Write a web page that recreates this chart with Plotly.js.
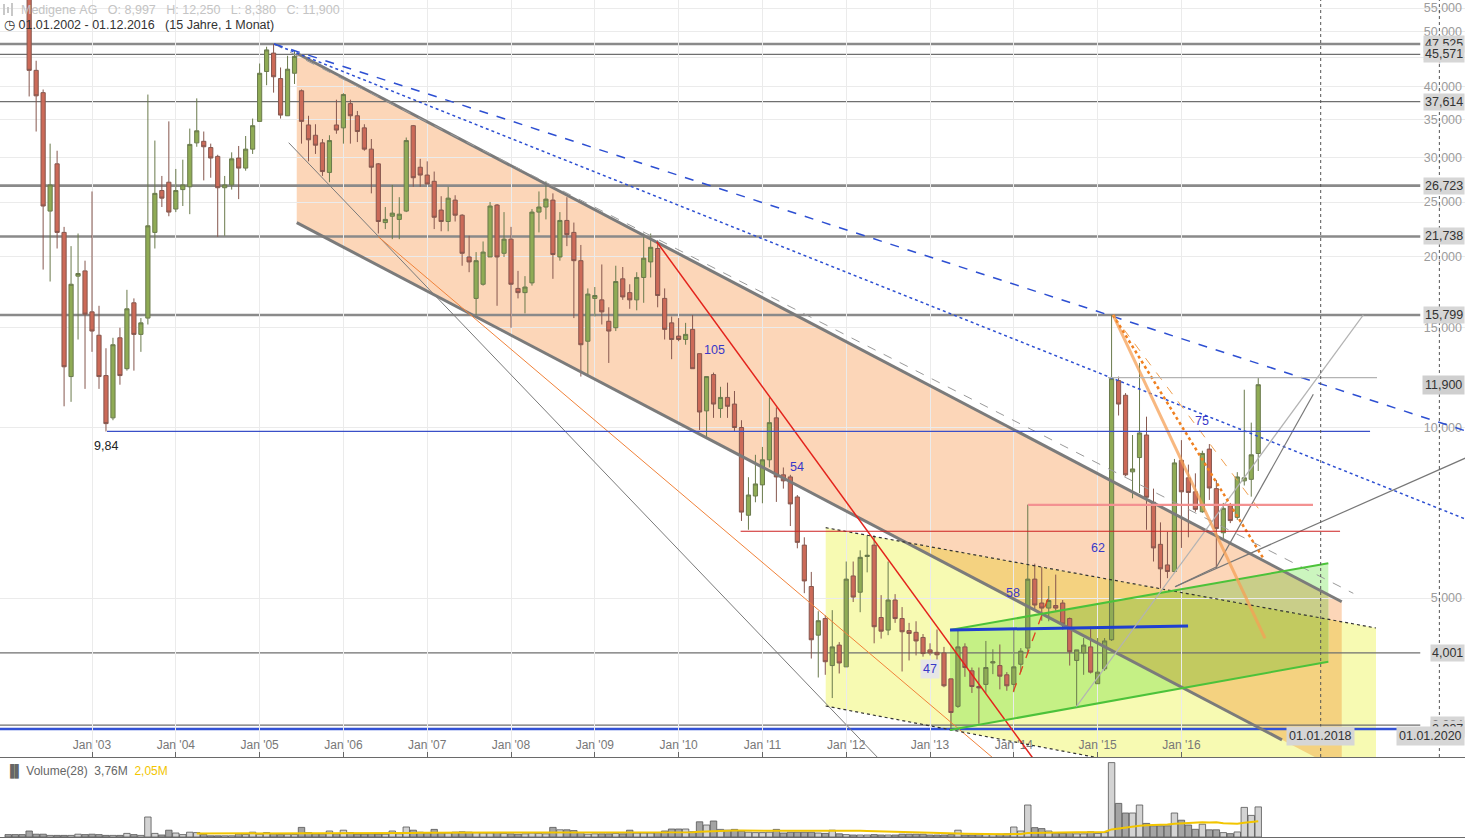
<!DOCTYPE html>
<html><head><meta charset="utf-8">
<script src="https://cdn.plot.ly/plotly-3.0.1.min.js"></script>
<style>
html,body{margin:0;padding:0;background:#fff;overflow:hidden;}
#chart{width:1465px;height:840px;}
</style></head><body>
<div id="chart"></div>
<script>
// ---------------- DATA (monthly, Jan 2002 .. Dec 2016) ----------------
const firstYear = 2002;
const opens = [
66,62,60,59,42.7,39.0,24.1,29.2,22.1,12.3,18.5,18.9,
16.0,14.55,12.35,10.4,14.4,12.7,16.6,14.6,15.6,22.1,26.2,27.1,
24.3,26.3,26.6,31.8,32.0,31.2,30.1,26.5,26.8,29.9,28.7,31.0,
34.7,42.5,45.8,41.3,35.5,42.2,39.3,34.2,32.8,31.8,28.2,34.2,
33.8,37.3,35.5,33.8,31.0,29.2,23.0,23.6,23.3,24.1,34.1,28.8,
27.9,27.2,24.2,23.1,25.2,23.7,20.0,16.9,17.9,20.0,24.7,20.3,
21.5,17.6,17.3,18.0,24.0,24.5,25.2,20.0,23.2,22.1,19.7,14.2,
16.9,16.8,15.4,15.0,18.3,17.3,16.8,18.4,19.6,20.7,16.9,15.3,
14.5,14.3,14.9,13.5,10.7,12.4,10.8,11.3,11.0,10.0,7.0,7.57,
7.92,8.77,10.4,8.25,8.18,7.54,6.2,5.24,4.3,4.6,3.8,4.13,
3.78,5.47,5.12,5.92,6.2,4.62,4.39,4.96,4.6,4.38,4.35,4.26,
4.05,4.01,4.0,3.6,3.22,4.1,3.72,3.49,3.52,3.84,3.8,3.66,
3.52,3.82,4.08,5.4,4.9,4.8,4.85,4.9,4.6,3.88,4.0,4.1,
3.53,3.75,4.22,12.1,11.4,8.35,8.85,9.7,7.38,6.22,5.72,5.57,
8.75,8.15,7.7,7.1,9.16,7.8,6.52,7.27,6.94,8.05,8.1,8.997];
const highs = [
70,65,63,60,44.4,39.5,31.7,30.8,22.6,20.9,22.0,19.7,
26.1,16.4,13.8,14.4,15.0,17.5,16.9,15.6,38.7,32.1,27.8,34.7,
28.6,29.7,33.7,38.1,33.3,31.7,30.3,27.8,30.6,31.4,32.7,35.1,
43.9,47.0,47.525,43.2,45.3,46.3,39.5,35.5,34.3,32.3,32.8,37.9,
38.9,37.9,36.2,34.3,32.3,29.3,24.5,26.8,25.5,32.5,34.2,29.8,
29.5,28.3,25.6,26.6,25.7,23.8,21.8,20.4,21.3,25.0,24.8,24.0,
22.6,18.9,18.5,24.3,26.1,27.2,25.9,24.0,25.5,23.0,21.0,17.6,
17.7,19.4,16.3,19.3,19.2,17.9,18.8,22.0,22.0,21.4,17.6,15.7,
15.6,15.3,15.8,13.5,12.3,12.5,11.8,12.0,11.6,10.3,8.17,8.95,
9.24,11.3,10.85,8.5,8.25,7.6,6.4,5.56,4.74,4.66,4.76,4.18,
5.8,5.8,6.07,6.45,6.45,5.06,5.8,5.08,4.82,4.52,4.55,4.32,
4.16,4.4,4.1,3.6,4.38,4.16,3.77,3.77,4.2,4.06,4.14,3.7,
4.4,4.08,7.31,5.75,5.67,5.25,5.5,4.96,4.62,4.05,4.25,4.45,
4.25,4.25,15.799,12.3,11.5,9.7,13.0,10.45,7.8,6.8,6.54,8.8,
9.5,8.6,8.3,9.1,9.35,8.08,7.36,7.36,8.34,11.66,10.2,12.25];
const lows = [
58,58,57.5,38.4,33.3,19.0,18.1,20.7,10.9,11.1,14.3,11.7,
13.6,11.7,9.84,10.3,11.9,12.6,12.6,13.6,15.2,20.7,24.5,23.6,
24.0,24.6,23.8,31.3,27.3,27.6,21.7,21.8,26.3,25.3,28.4,30.4,
34.7,40.2,39.0,35.1,35.5,40.4,31.7,29.5,30.4,27.8,27.1,33.0,
31.7,31.7,31.9,30.8,25.9,22.0,22.4,21.5,21.5,24.0,26.6,26.6,
26.9,22.4,22.2,22.2,23.1,19.3,18.8,15.8,17.8,20.0,16.4,20.0,
15.0,16.9,15.9,17.8,22.1,23.3,18.3,19.7,20.9,15.6,12.3,12.3,
15.7,15.2,13.0,14.8,16.8,16.2,16.1,16.6,18.4,16.3,14.3,13.2,
14.2,14.0,12.7,9.9,9.6,10.4,10.4,10.4,9.86,6.84,6.6,7.38,
7.35,8.5,7.39,7.8,6.7,6.12,5.1,3.91,3.62,3.66,3.33,3.68,
3.78,4.92,4.72,5.55,4.16,4.24,4.3,4.52,3.71,3.88,3.96,3.94,
3.96,3.88,3.48,2.937,3.2,3.63,3.4,3.0,3.4,3.67,3.45,3.43,
3.41,3.7,4.0,4.76,4.56,4.55,4.75,4.4,3.8,3.2,3.66,3.68,
3.53,3.72,4.2,10.5,8.2,7.5,7.66,6.6,5.8,5.2,5.42,5.55,
6.13,6.4,7.1,7.07,7.45,5.65,6.35,6.78,6.87,7.9,7.55,8.38];
const closes = [
62,60,59,42.7,38.5,24.6,26.8,22.1,12.8,17.9,18.7,15.85,
14.8,12.3,10.16,14.0,12.35,16.2,14.6,15.3,22.7,25.9,25.4,24.0,
26.2,26.8,31.6,33.4,31.3,29.9,26.5,26.8,29.8,28.7,31.0,34.1,
42.2,46.4,41.6,35.6,42.9,45.2,34.7,32.2,31.5,28.3,32.1,33.5,
38.7,35.5,33.3,31.0,28.8,23.1,23.3,23.9,23.8,32.1,27.6,27.9,
26.9,23.5,23.1,25.4,23.7,20.3,19.6,19.7,20.4,24.6,20.0,21.5,
17.9,17.3,17.7,24.0,24.5,25.3,20.2,23.2,21.9,19.7,14.0,17.2,
17.1,16.0,14.8,18.1,17.0,16.8,18.4,19.9,20.8,17.1,14.9,14.3,
14.3,14.6,12.7,10.65,12.3,11.0,11.3,10.9,10.0,7.09,7.6,7.95,
8.77,10.2,8.18,8.05,7.33,6.27,5.36,4.22,4.56,3.86,4.1,3.84,
5.4,5.02,5.9,5.95,4.45,4.37,4.96,4.6,4.36,4.33,4.2,3.99,
4.0,3.97,3.5,3.14,4.1,3.77,3.49,3.47,3.77,3.86,3.64,3.5,
3.78,4.03,5.4,4.86,4.8,4.95,4.8,4.5,4.02,4.05,4.13,3.7,
3.7,4.2,12.2,11.0,8.25,8.45,9.78,7.53,6.13,5.63,5.57,8.66,
7.7,7.68,7.17,9.0,7.82,6.63,7.2,6.85,8.18,8.15,8.95,11.9];
const volumesM = [
0.3,0.3,0.3,0.75,0.35,0.35,0.2,0.2,0.2,0.2,0.35,0.3,
0.35,0.3,0.2,0.2,0.2,0.45,0.3,0.2,2.5,0.45,0.25,0.85,
0.5,0.3,0.6,0.55,0.3,0.15,0.15,0.15,0.15,0.4,0.3,0.6,
0.35,0.55,0.4,0.3,0.35,0.3,1.2,0.55,0.4,0.4,0.75,0.4,
0.85,0.55,0.35,0.35,0.4,0.35,0.35,0.75,0.4,1.25,0.85,0.6,
0.5,0.95,0.5,0.5,0.6,0.65,0.6,0.55,0.5,0.5,0.55,0.45,
0.4,0.35,0.4,0.5,0.45,0.4,1.2,0.9,0.9,0.8,0.55,0.35,
0.4,0.4,0.4,0.45,0.4,0.85,0.5,0.5,0.5,0.55,0.75,1.0,
1.0,1.0,0.65,1.9,1.5,2.0,0.95,0.85,0.95,0.75,0.6,0.55,
0.55,0.6,0.95,0.5,0.6,0.6,0.6,0.6,0.5,0.45,0.85,0.4,
0.3,0.25,0.25,0.25,0.3,0.25,0.25,0.25,0.35,0.35,0.35,0.35,
0.25,0.25,0.25,0.3,0.85,0.25,0.25,0.3,0.3,0.3,0.35,0.4,
1.25,0.75,4.0,1.17,1.05,0.75,0.5,0.45,0.55,0.4,0.4,0.65,
0.45,0.55,9.3,4.2,3.0,3.0,4.0,1.7,1.4,1.4,1.4,3.0,
2.1,1.5,0.96,1.6,0.9,0.9,0.55,0.42,0.63,3.7,2.7,3.76];
const maPeriod = 28;

const yTickValues = [5,10,15,20,25,30,35,40,45,50,55];
const xTickYears = [2003,2004,2005,2006,2007,2008,2009,2010,2011,2012,2013,2014,2015,2016];
const xTickLabels = xTickYears.map(y => "Jan '" + String(y).slice(2));

// horizontal price levels with their tags
const levelPrices = [47.525, 45.571, 37.614, 26.723, 21.738, 15.799, 4.001, 2.984, 2.937];
const levelTags   = ['47,525','45,571','37,614','26,723','21,738','15,799','4,001','2,984','2,937'];
const levelKinds  = ['thick','thin','thin','thick','thick','thick','thin','thin','blue'];
const closeTagPrice = 11.9, closeTagText = '11,900';

// zones: [year, price] corners
const channelZone = [[2005.443,45.77],[2017.913,4.925],[2017.913,2.474],[2005.443,22.99]];
const yellowZone  = [[2011.755,6.655],[2018.322,4.427],[2018.322,2.107],[2011.755,3.224]];
const greenZone   = [[2013.239,4.391],[2017.753,5.758],[2017.753,3.860],[2013.239,2.924]];

// drawn lines: [year0, price0, year1, price1, kind]
const trendLines = [
 [2005.443,45.77, 2017.913,4.925, 'channel'],
 [2005.443,22.99, 2017.200,2.810, 'channel'],
 [2005.347,31.82, 2012.642,2.378, 'grayThin'],
 [2006.416,21.72, 2014.074,2.378, 'orangeThin'],
 [2009.738,21.28, 2014.313,2.506, 'red'],
 [2005.172,47.525, 2018.051,5.097, 'grayDash'],
 [2005.172,47.525, 2019.468,9.779, 'blueDash'],
 [2005.172,47.525, 2019.468,6.82, 'blueDot'],
 [2011.755,6.655, 2018.322,4.427, 'blackDot'],
 [2011.755,3.224, 2018.322,2.107, 'blackDot'],
 [2013.239,4.391, 2017.753,5.758, 'green'],
 [2013.239,2.924, 2017.753,3.860, 'green'],
 [2013.239,4.391, 2016.079,4.463, 'blueThick'],
 [2014.746,3.215, 2018.171,15.80, 'lightGray'],
 [2015.924,5.236, 2016.421,5.679, 'fan'],
 [2016.421,5.679, 2017.574,11.445, 'fan'],
 [2015.924,5.236, 2019.468,8.939, 'fan'],
 [2015.184,15.799, 2016.998,4.246, 'orangeWide'],
 [2015.184,15.799, 2016.977,5.877, 'orangeDot'],
 [2015.184,15.799, 2016.917,7.201, 'orangeDash'],
 [2013.994,3.418, 2014.432,5.103, 'redDash'],
 [2003.179,9.84, 2018.251,9.84, 'blueH'],
 [2010.740,6.56, 2017.893,6.56, 'redH'],
 [2014.169,7.30, 2017.570,7.30, 'salmonH'],
 [2015.124,12.25, 2018.334,12.25, 'lightGray']
];
// text labels: [year, price, text, kind]
const textLabels = [
 [2010.434,13.70,'105','num'],
 [2011.413,8.517,'54','num'],
 [2013.000,3.748,'47','numBox'],
 [2013.990,5.103,'58','num'],
 [2015.005,6.126,'62','num'],
 [2016.246,10.27,'75','num'],
 [2003.167,9.276,'9,84','plain']
];
const futureMarks = [[2017.662,'01.01.2018'],[2019.078,'01.01.2020']];

// ---------------- STYLES ----------------
const W = 1465, H = 840;
const priceBottomPx = 757, volBottomPx = 837;
const xRange = [2001.902, 2019.384];
const yRangeLog = [0.4184, 1.7546];
const lineStyles = {
 channel:{color:'#7b7b7b', width:3},
 grayThin:{color:'#7a7a7a', width:1},
 orangeThin:{color:'#f0823a', width:1},
 red:{color:'#e3231c', width:1.5},
 grayDash:{color:'#9a9a9a', width:1, dash:'dash'},
 blueDash:{color:'#2d4fd2', width:1.5, dash:'dash'},
 blueDot:{color:'#2d4fd2', width:1.5, dash:'dot'},
 blackDot:{color:'#333', width:1.2, dash:'dot'},
 green:{color:'#4cc23a', width:2},
 blueThick:{color:'#1f3fd0', width:3},
 lightGray:{color:'#b3b3b3', width:1.2},
 fan:{color:'#777', width:1.2},
 orangeWide:{color:'rgba(245,160,85,0.75)', width:3},
 orangeDot:{color:'#f08020', width:2.5, dash:'dot'},
 orangeDash:{color:'#f0a050', width:1, dash:'dash'},
 redDash:{color:'#e04020', width:1.3, dash:'dash'},
 blueH:{color:'#3a4fc8', width:1.3},
 redH:{color:'#cc2020', width:1.2},
 salmonH:{color:'#f39191', width:2.2}
};
const levelStyles = {thick:{color:'#8a8a8a', width:2.6}, thin:{color:'#6f6f6f', width:1.2}, blue:{color:'#3352d6', width:2.6}};
const peach = [252,214,184], yellow = [247,250,178], green = [203,245,190];

// ---------------- BUILD ----------------
const months = opens.map((_, i) => firstYear + i / 12);

function inter(p,q,sp,sq){ const t = sp/(sp-sq); return [p[0]+t*(q[0]-p[0]), p[1]+t*(q[1]-p[1])]; }
function clip(subject, clipPoly){
  let area = 0;
  clipPoly.forEach((p,i)=>{const q = clipPoly[(i+1)%clipPoly.length]; area += p[0]*q[1]-q[0]*p[1];});
  const sgn = area > 0 ? 1 : -1;
  let out = subject.slice();
  for (let i=0; i<clipPoly.length && out.length; i++){
    const a = clipPoly[i], b = clipPoly[(i+1)%clipPoly.length];
    const side = p => sgn*((b[0]-a[0])*(p[1]-a[1]) - (b[1]-a[1])*(p[0]-a[0]));
    const inp = out; out = [];
    for (let j=0; j<inp.length; j++){
      const cur = inp[j], prev = inp[(j+inp.length-1)%inp.length];
      const sc = side(cur), sp = side(prev);
      if (sc >= 0){ if (sp < 0) out.push(inter(prev,cur,sp,sc)); out.push(cur); }
      else if (sp >= 0) out.push(inter(prev,cur,sp,sc));
    }
  }
  return out;
}
const toLin = poly => poly.map(p => [p[0], Math.log10(p[1])]);
const mul = (...cs) => cs.reduce((a,c) => a.map((v,k) => v*c[k]/255));
const rgb = c => 'rgb(' + c.map(Math.round).join(',') + ')';
function zoneShape(linPoly, color){
  if (!linPoly || linPoly.length < 3) return null;
  const path = linPoly.map((p,i) => (i ? 'L' : 'M') + p[0].toFixed(4) + ',' + Math.pow(10,p[1]).toFixed(4)).join(' ') + ' Z';
  return {type:'path', xref:'x', yref:'y', path, fillcolor:rgb(color), line:{width:0}, layer:'below'};
}
const P = toLin(channelZone), Y = toLin(yellowZone), G = toLin(greenZone);
const PY = clip(P, Y), GP = clip(G, P), GY = clip(G, Y), GPY = clip(GP, Y);
const shapes = [
  zoneShape(P, peach), zoneShape(Y, yellow), zoneShape(PY, mul(peach,yellow)),
  zoneShape(G, green), zoneShape(GP, mul(green,peach)), zoneShape(GY, mul(green,yellow)),
  zoneShape(GPY, mul(green,peach,yellow))
].filter(Boolean);

levelPrices.forEach((p,i) => {
  const st = levelStyles[levelKinds[i]];
  shapes.push({type:'line', xref:'x', yref:'y', x0:xRange[0], x1:2018.85, y0:p, y1:p, line:{color:st.color, width:st.width}, layer:'below'});
});
trendLines.forEach(t => {
  const st = lineStyles[t[4]];
  shapes.push({type:'line', xref:'x', yref:'y', x0:t[0], y0:t[1], x1:t[2], y1:t[3], line:{color:st.color, width:st.width, dash:st.dash||'solid'}, layer:'above'});
});
futureMarks.forEach(f => {
  shapes.push({type:'line', xref:'x', yref:'paper', x0:f[0], x1:f[0], y0:1-priceBottomPx/H, y1:1, line:{color:'#555', width:1, dash:'3px,3px'}, layer:'above'});
});
// small candle icon in the header
[[4,4,15],[8,7,13],[12,3,16]].forEach(b => {
  shapes.push({type:'line', xref:'paper', yref:'paper', x0:b[0]/W, x1:b[0]/W, y0:1-b[1]/H, y1:1-b[2]/H, line:{color:'#c8c8c8', width:2}});
});

const annotations = [];
levelPrices.forEach((p,i) => {
  annotations.push({xref:'paper', yref:'y', x:1, y:Math.log10(p), xanchor:'right', yanchor:'middle', text:levelTags[i], showarrow:false,
    font:{size:12.5, color:'#333'}, bgcolor:'#d6d6d6', borderpad:1});
});
annotations.push({xref:'paper', yref:'y', x:1, y:Math.log10(closeTagPrice), xanchor:'right', yanchor:'middle', text:closeTagText, showarrow:false,
  font:{size:12.5, color:'#333'}, bgcolor:'#cfcfcf', borderpad:2});
textLabels.forEach(t => {
  const a = {xref:'x', yref:'y', x:t[0], y:Math.log10(t[1]), text:t[2], showarrow:false,
    font:{size:12.5, color: t[3]==='plain' ? '#222' : '#3838c8'}};
  if (t[3]==='numBox') { a.bgcolor = '#e6e6e6'; a.borderpad = 2; }
  annotations.push(a);
});
futureMarks.forEach((f,i) => {
  const a = {xref:'x', yref:'paper', x:f[0], y:1-746/H, xanchor:'center',
    text:f[1], showarrow:false, font:{size:12.5, color:'#333'}, bgcolor:'#d6d6d6', borderpad:2};
  if (i) { a.xref = 'paper'; a.x = 1; a.xanchor = 'right'; }
  annotations.push(a);
});
const nb = s => s.replace(/ /g, '\u00a0');
annotations.push({xref:'paper', yref:'paper', x:19/W, y:1-10/H, xanchor:'left', yanchor:'middle', showarrow:false,
  text:nb('Medigene AG   O: 8,997   H: 12,250   L: 8,380   C: 11,900'), font:{size:12.5, color:'#c4c4c4'}});
annotations.push({xref:'paper', yref:'paper', x:2/W, y:1-25/H, xanchor:'left', yanchor:'middle', showarrow:false,
  text:nb('\u25F7 01.01.2002 - 01.12.2016   (15 Jahre, 1 Monat)'), font:{size:12.5, color:'#333'}});
annotations.push({xref:'paper', yref:'paper', x:4/W, y:1-771/H, xanchor:'left', yanchor:'middle', showarrow:false,
  text:nb('\u2590\u258C Volume(28)  3,76M  ') + '<span style="color:#f2c500">2,05M</span>', font:{size:12, color:'#666'}});

// volume & moving average
const volColors = closes.map((c,i) => c >= opens[i] ? '#d3d3d3' : '#a4a4a4');
const maX = [], maY = [];
for (let i = maPeriod-1; i < volumesM.length; i++){
  let s = 0; for (let k = i-maPeriod+1; k <= i; k++) s += volumesM[k];
  maX.push(months[i]); maY.push(s/maPeriod*1e6);
}

const traces = [
  {type:'candlestick', x:months, open:opens, high:highs, low:lows, close:closes, xaxis:'x', yaxis:'y',
   increasing:{line:{color:'#6a7a4c', width:1}, fillcolor:'#8fab55'},
   decreasing:{line:{color:'#86574e', width:1}, fillcolor:'#cc6a58'},
   whiskerwidth:0, hoverinfo:'skip', showlegend:false},
  {type:'bar', x:months, y:volumesM.map(v => v*1e6), xaxis:'x2', yaxis:'y2',
   marker:{color:volColors, line:{color:'#555', width:0.8}}, hoverinfo:'skip', showlegend:false},
  {type:'scatter', mode:'lines', x:maX, y:maY, xaxis:'x2', yaxis:'y2', line:{color:'#f2c500', width:2}, hoverinfo:'skip', showlegend:false}
];

const layout = {
  width:W, height:H, margin:{l:0, r:0, t:0, b:0}, paper_bgcolor:'#fff', plot_bgcolor:'#fff',
  separators:',.', showlegend:false, hovermode:false, dragmode:false,
  font:{family:'"Liberation Sans", Arial, sans-serif', size:12, color:'#333'},
  bargap:0.08, boxgap:0.4, boxgroupgap:0,
  xaxis:{type:'linear', range:xRange, domain:[0,1], anchor:'y', tickmode:'array', tickvals:xTickYears, ticktext:xTickLabels,
    ticks:'inside', ticklen:5, tickcolor:'#666', ticklabelposition:'inside', tickfont:{size:12, color:'#777'},
    showgrid:true, gridcolor:'#ebebeb', showline:true, linecolor:'#6a6a6a', linewidth:1, zeroline:false,
    rangeslider:{visible:false}, fixedrange:true},
  yaxis:{type:'log', range:yRangeLog, domain:[1-priceBottomPx/H, 1], side:'right', anchor:'x', tickmode:'array', tickvals:yTickValues,
    tickformat:'.3f', ticklabelposition:'inside', ticks:'', tickfont:{size:12.5, color:'#9c9c9c'},
    showgrid:true, gridcolor:'#ebebeb', zeroline:false, showline:false, fixedrange:true},
  xaxis2:{type:'linear', range:xRange, domain:[0,1], anchor:'y2', showgrid:false, showticklabels:false, ticks:'',
    showline:true, linecolor:'#6a6a6a', linewidth:1, zeroline:false, fixedrange:true},
  yaxis2:{domain:[1-volBottomPx/H, 1-priceBottomPx/H], range:[0, 10e6], anchor:'x2', side:'right', tickmode:'array',
    tickvals:[10e6], ticktext:['10,00M'], ticklabelposition:'inside', ticks:'', tickfont:{size:11.5, color:'#aaa'},
    showgrid:false, zeroline:false, showline:false, fixedrange:true},
  shapes, annotations
};
Plotly.newPlot('chart', traces, layout, {staticPlot:true, displayModeBar:false});
</script>
</body></html>
